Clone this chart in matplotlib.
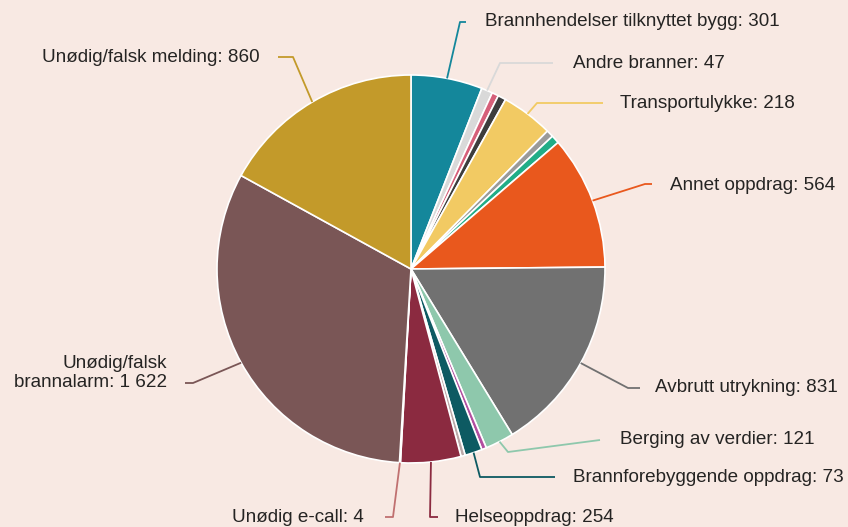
import numpy as np
import matplotlib
matplotlib.use("Agg")
import matplotlib.pyplot as plt

# ---- data (clockwise from 12 o'clock) ----
categories = [
    "Brannhendelser tilknyttet bygg", "Andre branner", "(ukjent 1)", "(ukjent 2)",
    "Transportulykke", "(ukjent 3)", "(ukjent 4)", "Annet oppdrag",
    "Avbrutt utrykning", "Berging av verdier", "(ukjent 5)",
    "Brannforebyggende oppdrag", "(ukjent 6)", "Helseoppdrag",
    "Unødig e-call", "Unødig/falsk brannalarm", "Unødig/falsk melding",
]
values = [301, 47, 28, 34, 218, 30, 35, 564, 831, 121, 20, 73, 18, 254, 4, 1622, 860]
colors = ["#14879b", "#d9d9d9", "#d6607a", "#3d3d3d", "#f2ca63", "#9a9a9a", "#21ad87",
          "#e9581d", "#717171", "#8ec8ac", "#b24ea0", "#0d5a62", "#bba8a8", "#8b2a40",
          "#c07070", "#7a5656", "#c39a2a"]
label_text = {
    0: "Brannhendelser tilknyttet bygg: 301",
    1: "Andre branner: 47",
    4: "Transportulykke: 218",
    7: "Annet oppdrag: 564",
    8: "Avbrutt utrykning: 831",
    9: "Berging av verdier: 121",
    11: "Brannforebyggende oppdrag: 73",
    13: "Helseoppdrag: 254",
    14: "Unødig e-call: 4",
    15: "Unødig/falsk\nbrannalarm: 1 622",
    16: "Unødig/falsk melding: 860",
}

# ---- layout (pixel coords, y from top) ----
W, H = 848, 527
cx, cy, R = 411, 269, 194
# knee point, end of horizontal, text x, text y, alignment
layout = {
    0: ((460, 22), (466, 22), 485, 22, "left"),
    1: ((500, 63), (553, 63), 573, 63, "left"),
    4: ((537, 103), (603, 103), 620, 103, "left"),
    7: ((645, 184), (652, 184), 670, 186, "left"),
    8: ((628, 388), (640, 388), 655, 388, "left"),
    9: ((508, 452), (600, 440), 620, 440, "left"),
    11: ((480, 477), (555, 477), 573, 477, "left"),
    13: ((430, 517), (438, 517), 455, 517, "left"),
    14: ((393, 517), (385, 517), 364, 517, "right"),
    15: ((193, 383), (185, 383), 167, 373, "right"),
    16: ((293, 57), (278, 57), 260, 57, "right"),
}

bg = "#f8e9e3"
fig = plt.figure(figsize=(W / 100, H / 100), dpi=100)
fig.patch.set_facecolor(bg)
ax = fig.add_axes([0, 0, 1, 1])
ax.set_facecolor(bg)
ax.axis("off")

def fy(y):
    return H - y

wedges, _ = ax.pie(values, colors=colors, startangle=90, counterclock=False,
                   center=(cx, fy(cy)), radius=R,
                   wedgeprops=dict(edgecolor="white", linewidth=1.2))
ax.set_xlim(0, W)
ax.set_ylim(0, H)
ax.set_aspect("equal")

txt_color = "#252423"
for i, txt in label_text.items():
    w = wedges[i]
    mid = np.deg2rad((w.theta1 + w.theta2) / 2)
    sx = cx + R * np.cos(mid)
    sy = fy(cy) + R * np.sin(mid)
    (kx, ky), (ex, ey), tx, ty, ha = layout[i]
    ax.plot([sx, kx, ex], [sy, fy(ky), fy(ey)], color=colors[i], lw=1.3,
            solid_capstyle="butt", zorder=1)
    ax.text(tx, fy(ty), txt, ha=ha, va="center", fontsize=13.6,
            color=txt_color, family=["Liberation Sans", "DejaVu Sans"],
            linespacing=1.1)

fig.savefig("out.png", dpi=100, facecolor=bg)
